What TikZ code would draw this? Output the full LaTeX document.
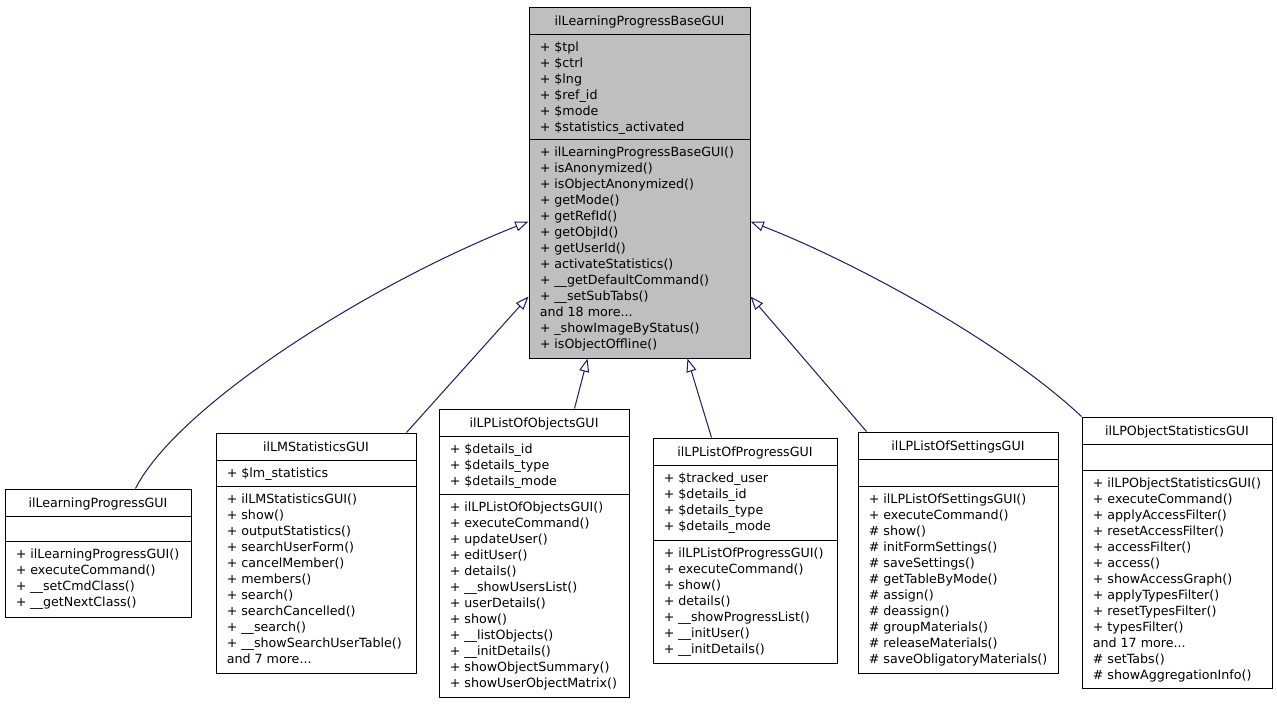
\documentclass[tikz,border=0pt]{standalone}
\usepackage{fontspec}
\setmainfont{DejaVu Sans}
\usetikzlibrary{arrows.meta,calc,fit}
\definecolor{edgeblue}{RGB}{25,25,112}
\definecolor{basegray}{RGB}{191,191,191}
\newcommand\umlfont{\fontsize{9.5}{12}\selectfont}
\tikzset{
  classbox/.style={draw=black, line width=0.75pt, inner sep=0pt, fill=white},
  sepline/.style={draw=black, line width=0.75pt},
  classtitle/.style={anchor=base, inner sep=0pt, font=\umlfont},
  members/.style={anchor=north west, inner sep=0pt, align=left, font=\umlfont},
  inherit/.style={draw=edgeblue, line width=0.75pt, -{Triangle[open, length=10pt, width=7.5pt]}},
}
\begin{document}
\begin{tikzpicture}[x=0.75pt, y=-0.75pt]
\useasboundingbox (0,0) rectangle (1277,704);
\fill[white] (0,0) rectangle (1277,704);

% base class
\node[classbox, fill=basegray, fit={(529,7)(750,358)}] (base) {};
\draw[sepline] (529,34) -- (750,34);
\draw[sepline] (529,139) -- (750,139);
\node[classtitle] (baseT) at (639.5,25) {ilLearningProgressBaseGUI};
\node[members] (baseA) at (539.5,40) {\strut+ \$tpl\\+ \$ctrl\\+ \$lng\\+ \$ref\_id\\+ \$mode\\+ \$statistics\_activated};
\node[members] (baseM) at (539.5,145) {\strut+ ilLearningProgressBaseGUI()\\+ isAnonymized()\\+ isObjectAnonymized()\\+ getMode()\\+ getRefId()\\+ getObjId()\\+ getUserId()\\+ activateStatistics()\\+ \_\_getDefaultCommand()\\+ \_\_setSubTabs()\\and 18 more...\\+ \_showImageByStatus()\\+ isObjectOffline()};

% ilLearningProgressGUI
\node[classbox, fit={(5,489)(191,617)}] (lpgui) {};
\draw[sepline] (5,516) -- (191,516);
\draw[sepline] (5,541) -- (191,541);
\node[classtitle] (lpguiT) at (98,507) {ilLearningProgressGUI};
\node[members] (lpguiM) at (15.5,547) {\strut+ ilLearningProgressGUI()\\+ executeCommand()\\+ \_\_setCmdClass()\\+ \_\_getNextClass()};

% ilLMStatisticsGUI
\node[classbox, fit={(216,433)(416,673)}] (lmstat) {};
\draw[sepline] (216,460) -- (416,460);
\draw[sepline] (216,486) -- (416,486);
\node[classtitle] (lmstatT) at (316,451) {ilLMStatisticsGUI};
\node[members] (lmstatA) at (226.5,466) {\strut+ \$lm\_statistics};
\node[members] (lmstatM) at (226.5,492) {\strut+ ilLMStatisticsGUI()\\+ show()\\+ outputStatistics()\\+ searchUserForm()\\+ cancelMember()\\+ members()\\+ search()\\+ searchCancelled()\\+ \_\_search()\\+ \_\_showSearchUserTable()\\and 7 more...};

% ilLPListOfObjectsGUI
\node[classbox, fit={(439,409)(629,697)}] (objects) {};
\draw[sepline] (439,436) -- (629,436);
\draw[sepline] (439,494) -- (629,494);
\node[classtitle] (objectsT) at (534,427) {ilLPListOfObjectsGUI};
\node[members] (objectsA) at (449.5,442) {\strut+ \$details\_id\\+ \$details\_type\\+ \$details\_mode};
\node[members] (objectsM) at (449.5,500) {\strut+ ilLPListOfObjectsGUI()\\+ executeCommand()\\+ updateUser()\\+ editUser()\\+ details()\\+ \_\_showUsersList()\\+ userDetails()\\+ show()\\+ \_\_listObjects()\\+ \_\_initDetails()\\+ showObjectSummary()\\+ showUserObjectMatrix()};

% ilLPListOfProgressGUI
\node[classbox, fit={(653,438)(837,663)}] (progress) {};
\draw[sepline] (653,465) -- (837,465);
\draw[sepline] (653,540) -- (837,540);
\node[classtitle] (progressT) at (745,456) {ilLPListOfProgressGUI};
\node[members] (progressA) at (663.5,471) {\strut+ \$tracked\_user\\+ \$details\_id\\+ \$details\_type\\+ \$details\_mode};
\node[members] (progressM) at (663.5,546) {\strut+ ilLPListOfProgressGUI()\\+ executeCommand()\\+ show()\\+ details()\\+ \_\_showProgressList()\\+ \_\_initUser()\\+ \_\_initDetails()};

% ilLPListOfSettingsGUI
\node[classbox, fit={(858,432)(1058,673)}] (settings) {};
\draw[sepline] (858,459) -- (1058,459);
\draw[sepline] (858,486) -- (1058,486);
\node[classtitle] (settingsT) at (958,450) {ilLPListOfSettingsGUI};
\node[members] (settingsM) at (868.5,492) {\strut+ ilLPListOfSettingsGUI()\\+ executeCommand()\\\# show()\\\# initFormSettings()\\\# saveSettings()\\\# getTableByMode()\\\# assign()\\\# deassign()\\\# groupMaterials()\\\# releaseMaterials()\\\# saveObligatoryMaterials()};

% ilLPObjectStatisticsGUI
\node[classbox, fit={(1082,417)(1272,688)}] (objstat) {};
\draw[sepline] (1082,444) -- (1272,444);
\draw[sepline] (1082,470) -- (1272,470);
\node[classtitle] (objstatT) at (1177,435) {ilLPObjectStatisticsGUI};
\node[members] (objstatM) at (1092.5,476) {\strut+ ilLPObjectStatisticsGUI()\\+ executeCommand()\\+ applyAccessFilter()\\+ resetAccessFilter()\\+ accessFilter()\\+ access()\\+ showAccessGraph()\\+ applyTypesFilter()\\+ resetTypesFilter()\\+ typesFilter()\\and 17 more...\\\# setTabs()\\\# showAggregationInfo()};

% inheritance connectors
\draw[inherit] ($(lpgui.north west)+(131,0)$) .. controls (178,405) and (370,284) .. ($(base.north west)+(0,215)$);
\draw[inherit] ($(lmstat.north west)+(191,0)$) -- ($(base.north west)+(0,290)$);
\draw[inherit] ($(objects.north west)+(136,0)$) -- ($(base.south west)+(59,0)$);
\draw[inherit] ($(progress.north west)+(59,0)$) -- ($(base.south west)+(159,0)$);
\draw[inherit] ($(settings.north west)+(9,0)$) -- ($(base.north east)+(0,290)$);
\draw[inherit] (objstat.north west) .. controls (1000,340) and (850,260) .. ($(base.north east)+(0,215)$);
\end{tikzpicture}
\end{document}
